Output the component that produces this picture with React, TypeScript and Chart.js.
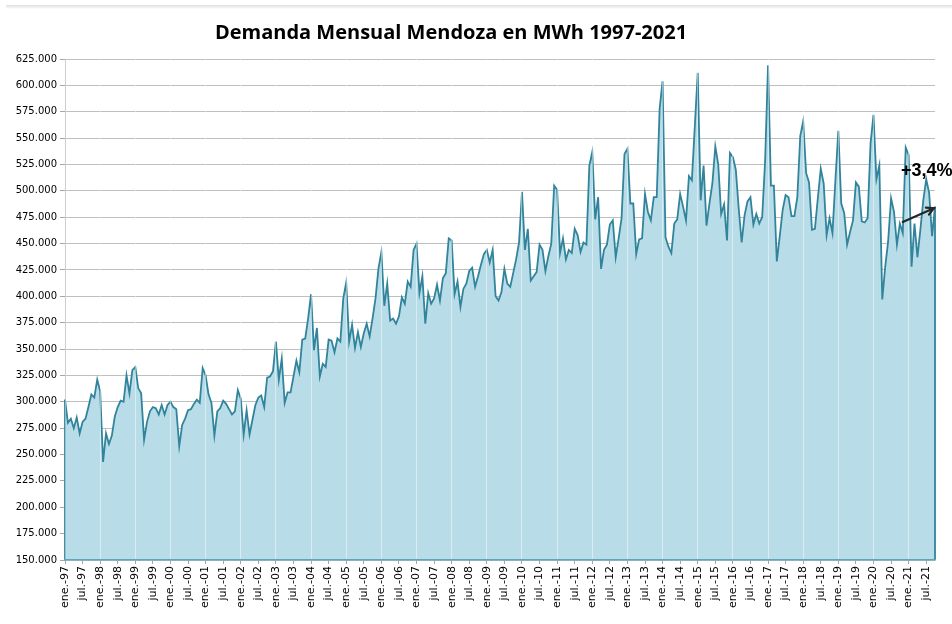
import { useEffect, useRef } from 'react';
import { Chart, registerables } from 'chart.js';

Chart.register(...registerables);

const TITLE = 'Demanda Mensual Mendoza en MWh 1997-2021';
const monthNames = ['ene.', 'feb.', 'mar.', 'abr.', 'may.', 'jun.', 'jul.', 'ago.', 'sep.', 'oct.', 'nov.', 'dic.'];
const yearLabels = ['97', '98', '99', '00', '01', '02', '03', '04', '05', '06', '07', '08', '09', '10', '11', '12', '13', '14', '15', '16', '17', '18', '19', '20', '21'];

const d1997 = [302000, 280000, 284000, 275000, 285000, 270000, 281000, 284000, 295000, 307000, 304000, 321000];
const d1998 = [310000, 243000, 270000, 260000, 268000, 286000, 295000, 301000, 300000, 325000, 308000, 330000];
const d1999 = [333000, 313000, 308000, 264000, 281000, 291000, 295000, 294000, 288000, 297000, 288000, 297000];
const d2000 = [300000, 295000, 293000, 258000, 278000, 284000, 292000, 293000, 298000, 302000, 299000, 332000];
const d2001 = [325000, 307000, 299000, 268000, 291000, 294000, 301000, 298000, 293000, 288000, 291000, 311000];
const d2002 = [303000, 269000, 292000, 269000, 283000, 297000, 304000, 306000, 295000, 323000, 324000, 329000];
const d2003 = [357000, 321000, 341000, 299000, 309000, 309000, 324000, 339000, 328000, 359000, 360000, 379000];
const d2004 = [402000, 349000, 370000, 324000, 336000, 333000, 359000, 358000, 347000, 360000, 357000, 398000];
const d2005 = [413000, 357000, 373000, 351000, 366000, 352000, 365000, 374000, 362000, 379000, 398000, 426000];
const d2006 = [442000, 391000, 412000, 377000, 379000, 374000, 381000, 399000, 393000, 414000, 409000, 444000];
const d2007 = [450000, 403000, 419000, 374000, 403000, 393000, 398000, 411000, 396000, 417000, 422000, 455000];
const d2008 = [453000, 402000, 414000, 390000, 407000, 412000, 424000, 427000, 409000, 419000, 430000, 440000];
const d2009 = [444000, 432000, 444000, 400000, 396000, 404000, 426000, 412000, 409000, 422000, 435000, 451000];
const d2010 = [499000, 444000, 464000, 415000, 419000, 423000, 449000, 444000, 424000, 438000, 450000, 505000];
const d2011 = [501000, 441000, 455000, 435000, 444000, 441000, 464000, 458000, 442000, 451000, 449000, 524000];
const d2012 = [537000, 473000, 494000, 426000, 444000, 449000, 468000, 472000, 437000, 455000, 474000, 535000];
const d2013 = [540000, 488000, 488000, 440000, 454000, 455000, 497000, 480000, 472000, 494000, 494000, 578000];
const d2014 = [604000, 456000, 447000, 441000, 469000, 473000, 497000, 485000, 472000, 514000, 510000, 561000];
const d2015 = [612000, 491000, 524000, 467000, 488000, 507000, 542000, 525000, 478000, 487000, 453000, 536000];
const d2016 = [532000, 520000, 483000, 451000, 477000, 490000, 494000, 468000, 478000, 469000, 475000, 528000];
const d2017 = [619000, 505000, 505000, 433000, 457000, 482000, 496000, 494000, 476000, 476000, 494000, 552000];
const d2018 = [566000, 517000, 508000, 463000, 464000, 493000, 521000, 507000, 458000, 474000, 460000, 510000];
const d2019 = [557000, 488000, 479000, 449000, 461000, 472000, 508000, 504000, 471000, 470000, 474000, 545000];
const d2020 = [572000, 511000, 524000, 397000, 428000, 452000, 493000, 480000, 449000, 469000, 460000, 541000];
const d2021 = [534000, 428000, 469000, 437000, 463000, 491000, 511000, 498000, 457000, 485000];

const demand = [
  ...d1997, ...d1998, ...d1999, ...d2000, ...d2001, ...d2002, ...d2003, ...d2004, ...d2005,
  ...d2006, ...d2007, ...d2008, ...d2009, ...d2010, ...d2011, ...d2012, ...d2013, ...d2014,
  ...d2015, ...d2016, ...d2017, ...d2018, ...d2019, ...d2020, ...d2021,
];

const categories = yearLabels
  .flatMap((yy) => monthNames.map((mm) => `${mm}-${yy}`))
  .slice(0, demand.length);

const Y_MIN = 150000;
const Y_MAX = 625000;
const Y_STEP = 25000;

// annotation: growth label and arrow, in data coordinates (category index, MWh)
const NOTE_TEXT = '+3,4%';
const NOTE_POS = [294.2, 518500];
const ARROW_FROM = [286, 470500];
const ARROW_TO = [296.6, 483500];

const LINE_COLOR = '#31849b';
const FILL_COLOR = '#b8dde8';

function fmtThousands(v: number): string {
  return String(Math.round(v)).replace(/\B(?=(\d{3})+(?!\d))/g, '.');
}

const edgePlugin = {
  id: 'areaEdges',
  afterDatasetsDraw(chart: any) {
    const meta = chart.getDatasetMeta(0);
    if (!meta || !meta.data.length) return;
    const ctx = chart.ctx;
    const bottom = chart.chartArea.bottom;
    const pts = [meta.data[0], meta.data[meta.data.length - 1]];
    ctx.save();
    ctx.strokeStyle = LINE_COLOR;
    ctx.lineWidth = 1.8;
    pts.forEach((p: any) => {
      ctx.beginPath();
      ctx.moveTo(p.x, p.y);
      ctx.lineTo(p.x, bottom);
      ctx.stroke();
    });
    ctx.restore();
  },
};

const notePlugin = {
  id: 'growthNote',
  afterDraw(chart: any) {
    const { ctx, scales } = chart;
    const x = scales.x;
    const y = scales.y;
    const x1 = x.getPixelForValue(ARROW_FROM[0]);
    const y1 = y.getPixelForValue(ARROW_FROM[1]);
    const x2 = x.getPixelForValue(ARROW_TO[0]);
    const y2 = y.getPixelForValue(ARROW_TO[1]);
    ctx.save();
    ctx.strokeStyle = '#262626';
    ctx.lineWidth = 2.2;
    ctx.lineCap = 'round';
    ctx.beginPath();
    ctx.moveTo(x1, y1);
    ctx.lineTo(x2, y2);
    ctx.stroke();
    const ang = Math.atan2(y2 - y1, x2 - x1);
    const len = 8;
    ctx.beginPath();
    ctx.moveTo(x2 - len * Math.cos(ang - 0.5), y2 - len * Math.sin(ang - 0.5));
    ctx.lineTo(x2, y2);
    ctx.lineTo(x2 - len * Math.cos(ang + 0.5), y2 - len * Math.sin(ang + 0.5));
    ctx.stroke();
    ctx.fillStyle = '#000';
    ctx.font = 'bold 18px "Liberation Sans", Arial, sans-serif';
    ctx.textAlign = 'center';
    ctx.textBaseline = 'middle';
    ctx.fillText(NOTE_TEXT, x.getPixelForValue(NOTE_POS[0]), y.getPixelForValue(NOTE_POS[1]));
    ctx.restore();
  },
};

export default function App() {
  const ref = useRef<HTMLCanvasElement | null>(null);

  useEffect(() => {
    document.body.style.margin = '0';
    if (!ref.current) return;
    const chart = new Chart(ref.current, {
      type: 'line',
      data: {
        labels: categories,
        datasets: [
          {
            data: demand,
            borderColor: LINE_COLOR,
            backgroundColor: FILL_COLOR,
            borderWidth: 1.8,
            fill: 'start',
            pointRadius: 0,
            tension: 0,
          },
        ],
      },
      options: {
        animation: false,
        responsive: false,
        maintainAspectRatio: false,
        layout: { padding: { left: 8, right: 17, top: 59, bottom: 0 } },
        plugins: {
          legend: { display: false },
          tooltip: { enabled: false },
          title: { display: false },
        },
        scales: {
          x: {
            type: 'category',
            offset: false,
            afterFit: (s: any) => { s.height = 64; },
            grid: {
              z: 1,
              drawOnChartArea: true,
              color: (c: any) => (c.index % 12 === 0 ? 'rgba(255,255,255,0.45)' : 'rgba(0,0,0,0)'),
              tickColor: (c: any) => (c.index % 6 === 0 ? '#a6a6a6' : 'rgba(0,0,0,0)'),
              tickLength: 4,
              lineWidth: 1,
            },
            border: { display: true, color: '#5fa3b8', width: 1.5, z: 1 },
            ticks: {
              autoSkip: false,
              minRotation: 90,
              maxRotation: 90,
              padding: 2,
              color: '#000',
              font: { family: '"DejaVu Sans", sans-serif', size: 11 },
              callback: (_v: any, i: number) => (i % 6 === 0 ? categories[i] : ''),
            },
          },
          y: {
            min: Y_MIN,
            max: Y_MAX,
            afterFit: (s: any) => { s.width = 57; },
            grid: {
              color: '#bfbfbf',
              lineWidth: 1,
              tickLength: 5,
              tickColor: '#a6a6a6',
            },
            border: { display: true, color: '#a6a6a6' },
            ticks: {
              stepSize: Y_STEP,
              padding: 3,
              color: '#000',
              font: { family: '"DejaVu Sans", sans-serif', size: 10 },
              callback: (v: any) => fmtThousands(Number(v)),
            },
          },
        },
      },
      plugins: [edgePlugin, notePlugin],
    });
    return () => chart.destroy();
  }, []);

  return (
    <div style={{ position: 'relative', width: 952, height: 624, background: '#fff' }}>
      <div
        style={{
          position: 'absolute',
          top: 5,
          left: 6,
          right: 0,
          height: 4,
          background: 'linear-gradient(to bottom, rgba(0,0,0,0.13), rgba(0,0,0,0))',
        }}
      />
      <div
        style={{
          position: 'absolute',
          top: 18,
          left: 0,
          width: 902,
          textAlign: 'center',
          fontFamily: '"Open Sans", sans-serif',
          fontWeight: 700,
          fontSize: 20,
          lineHeight: '28px',
          color: '#000',
          whiteSpace: 'nowrap',
        }}
      >
        {TITLE}
      </div>
      <canvas ref={ref} width={952} height={624} style={{ display: 'block' }} />
    </div>
  );
}
